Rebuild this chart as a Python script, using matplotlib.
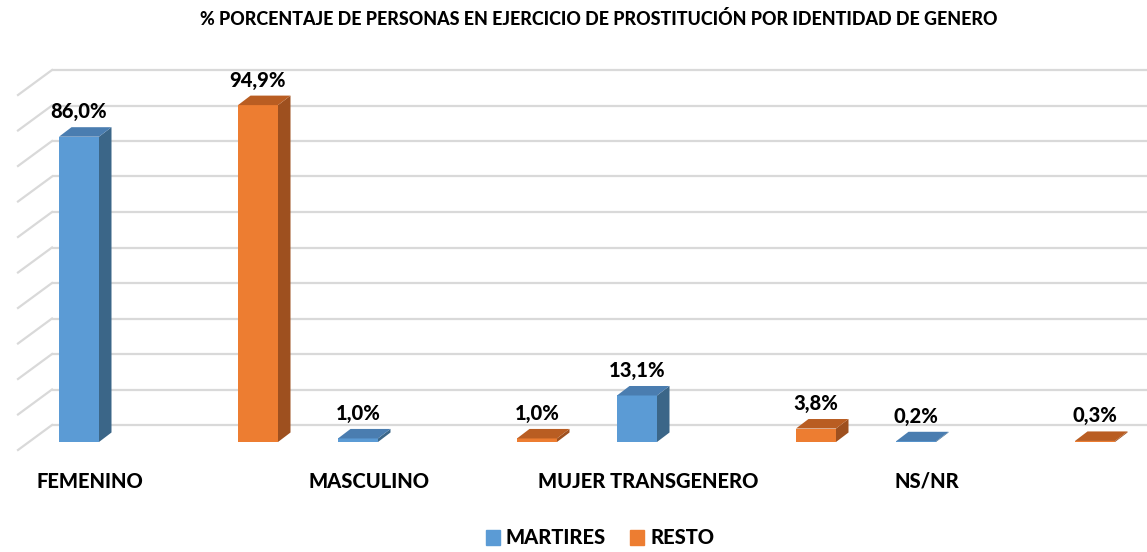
import numpy as np
import matplotlib.pyplot as plt
from matplotlib.patches import Polygon
from matplotlib.transforms import offset_copy

plt.rcParams['font.family'] = ['Lato', 'DejaVu Sans']

categories = ['FEMENINO', 'MASCULINO', 'MUJER TRANSGENERO', 'NS/NR']
martires = [86.0, 1.0, 13.1, 0.2]
resto = [94.9, 1.0, 3.8, 0.3]
series_names = ['MARTIRES', 'RESTO']
grid_vals = np.arange(0, 101, 10)

# colours: front, side, top
blue = ('#5B9BD5', '#3B6688', '#4A7DB0')
orange = ('#ED7D31', '#9E501F', '#B95D22')

W, H, DPI = 1147, 552, 100
fig = plt.figure(figsize=(W / DPI, H / DPI), dpi=DPI)

# axes laid out so that 0% sits at pixel row 442 and 10% = 35.5 px
px_y = 1 / 3.55          # percent per pixel
px_x = 1 / 279           # category units per pixel
ax = fig.add_axes([0, (H - 470) / H, 1, 430 / H])
ax.set_xlim(-79 * px_x, (W - 79) * px_x)
ax.set_ylim(-(470 - 442) * px_y, (442 - 40) * px_y)
ax.axis('off')

# back wall + side wall gridlines
back = offset_copy(ax.transData, fig=fig, x=0, y=17, units='dots')
x_wall = -27 * px_x
ax.hlines(grid_vals, x_wall, ax.get_xlim()[1], transform=back,
          color='#D9D9D9', lw=1.6, zorder=0)
for g in grid_vals:
    ax.plot([x_wall - 34 * px_x, x_wall], [g - 25 * px_y, g], transform=back,
            color='#D9D9D9', lw=1.6, zorder=0)

width = 40 * px_x
dx, dy = 12.5 * px_x, 9.5 * px_y
x = np.arange(len(categories))
offset = 179 * px_x
fs = 14.5
wt = 'black'


def bar3d(xc, v, cols):
    front, side, top = cols
    l, r = xc - width / 2, xc + width / 2
    ax.bar(xc, v, width, color=front, zorder=3)
    ax.add_patch(Polygon([(r, 0), (r + dx, dy), (r + dx, v + dy), (r, v)],
                         closed=True, color=side, zorder=3, lw=0))
    ax.add_patch(Polygon([(l, v), (r, v), (r + dx, v + dy), (l + dx, v + dy)],
                         closed=True, color=top, zorder=4, lw=0))
    ax.text(xc, v + dy + 6 * px_y, f'{v:.1f}%'.replace('.', ','),
            ha='center', va='bottom', fontsize=fs, fontweight=wt, zorder=5)


for i in range(len(categories)):
    bar3d(x[i], martires[i], blue)
    bar3d(x[i] + offset, resto[i], orange)

for i, c in enumerate(categories):
    ax.text(x[i] + 11 * px_x, -39 * px_y, c, ha='center', va='center',
            fontsize=fs, fontweight=wt)

fig.text(599 / W, 1 - 19 / H,
         '% PORCENTAJE DE PERSONAS EN EJERCICIO DE PROSTITUCIÓN POR IDENTIDAD DE GENERO',
         ha='center', va='center', fontsize=12.9, fontweight=wt)

handles = [plt.Rectangle((0, 0), 1, 1, color=blue[0]),
           plt.Rectangle((0, 0), 1, 1, color=orange[0])]
leg = fig.legend(handles, series_names, loc='center', bbox_to_anchor=(0.523, 1 - 538 / H),
                 ncol=2, frameon=False, handlelength=0.7, handleheight=0.7,
                 handletextpad=0.3, columnspacing=1.2,
                 prop={'size': fs, 'weight': wt})

fig.savefig('out.png', dpi=DPI)
